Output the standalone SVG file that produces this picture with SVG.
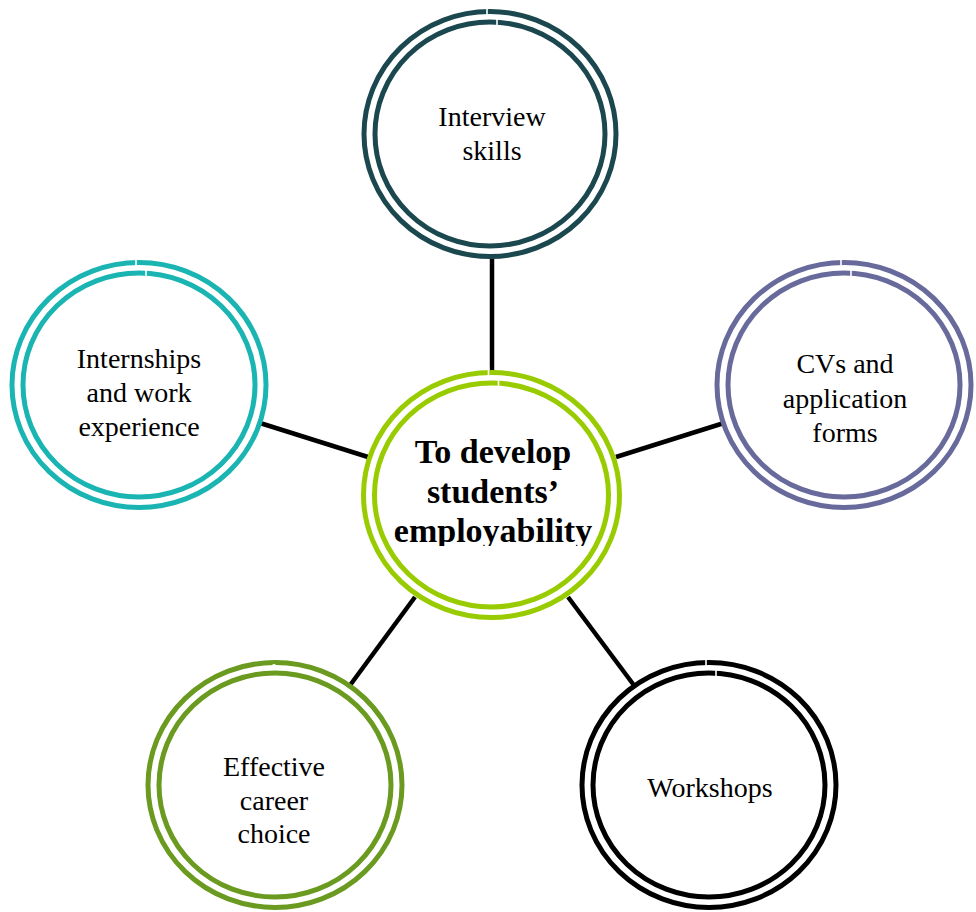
<svg xmlns="http://www.w3.org/2000/svg" width="976" height="912" viewBox="0 0 976 912">
  <style>
    .outer { fill: #ffffff; stroke-width: 5; }
    .inner { fill: none; stroke-width: 5; }
    .seam { stroke: #ffffff; stroke-width: 1.6; }
    .label { font-family: "Liberation Serif", "Times New Roman", serif; font-size: 28px; fill: #000000; text-anchor: middle; }
    .hub { font-family: "Liberation Serif", "Times New Roman", serif; font-size: 34px; font-weight: bold; fill: #000000; text-anchor: middle; }
    .link { stroke: #000000; stroke-width: 4.5; fill: none; }
  </style>
  <defs>
    <clipPath id="hubClip">
      <rect x="360" y="380" width="270" height="166"/>
    </clipPath>
    <!-- hairline breaks where each ring's path closes -->
    <g id="seams">
      <line class="seam" x1="-3" y1="-6" x2="-3" y2="4"/>
      <line class="seam" x1="7" y1="5" x2="7" y2="15"/>
    </g>
  </defs>
  <rect width="976" height="912" fill="#ffffff"/>

  <!-- spokes from the hub to each satellite -->
  <g id="connectors">
    <line class="link" x1="492" y1="256" x2="492" y2="374"/>
    <line class="link" x1="260" y1="423" x2="368" y2="457"/>
    <line class="link" x1="616" y1="457" x2="724" y2="423"/>
    <line class="link" x1="415" y1="597" x2="348" y2="688"/>
    <line class="link" x1="568" y1="597" x2="636" y2="688"/>
  </g>

  <g id="hub">
    <ellipse class="outer" cx="491.5" cy="495" rx="128" ry="122.5" stroke="#99cc00"/>
    <ellipse class="inner" cx="491.5" cy="495" rx="117" ry="112" stroke="#99cc00"/>
    <use href="#seams" x="491.5" y="372.5"/>
    <g clip-path="url(#hubClip)">
      <text class="hub" x="493" y="463">To develop</text>
      <text class="hub" x="493" y="503">students’</text>
      <text class="hub" x="493" y="542">employability</text>
    </g>
  </g>

  <g id="interview">
    <ellipse class="outer" cx="490" cy="134" rx="126" ry="122.5" stroke="#1b474e"/>
    <ellipse class="inner" cx="490" cy="134" rx="115" ry="112" stroke="#1b474e"/>
    <use href="#seams" x="490" y="11.5"/>
    <text class="label" x="492" y="126">Interview</text>
    <text class="label" x="492" y="160">skills</text>
  </g>

  <g id="internships">
    <ellipse class="outer" cx="139" cy="385" rx="127" ry="122.5" stroke="#1ab5b2"/>
    <ellipse class="inner" cx="139" cy="385" rx="116" ry="112" stroke="#1ab5b2"/>
    <use href="#seams" x="139" y="262.5"/>
    <text class="label" x="139" y="368">Internships</text>
    <text class="label" x="139" y="402">and work</text>
    <text class="label" x="139" y="436">experience</text>
  </g>

  <g id="cvs">
    <ellipse class="outer" cx="844" cy="385" rx="127" ry="122.5" stroke="#686a9c"/>
    <ellipse class="inner" cx="844" cy="385" rx="116" ry="112" stroke="#686a9c"/>
    <use href="#seams" x="844" y="262.5"/>
    <text class="label" x="845" y="373">CVs and</text>
    <text class="label" x="845" y="408">application</text>
    <text class="label" x="845" y="442">forms</text>
  </g>

  <g id="career">
    <ellipse class="outer" cx="275" cy="785" rx="127" ry="122.5" stroke="#6a9a1f"/>
    <ellipse class="inner" cx="275" cy="785" rx="116" ry="112" stroke="#6a9a1f"/>
    <circle cx="274" cy="666" r="2" fill="#ffffff"/>
    <text class="label" x="274" y="776">Effective</text>
    <text class="label" x="274" y="810">career</text>
    <text class="label" x="274" y="843">choice</text>
  </g>

  <g id="workshops">
    <ellipse class="outer" cx="709" cy="785" rx="127" ry="122.5" stroke="#000000"/>
    <ellipse class="inner" cx="709" cy="785" rx="116" ry="112" stroke="#000000"/>
    <use href="#seams" x="709" y="662.5"/>
    <text class="label" x="710" y="797">Workshops</text>
  </g>
</svg>
